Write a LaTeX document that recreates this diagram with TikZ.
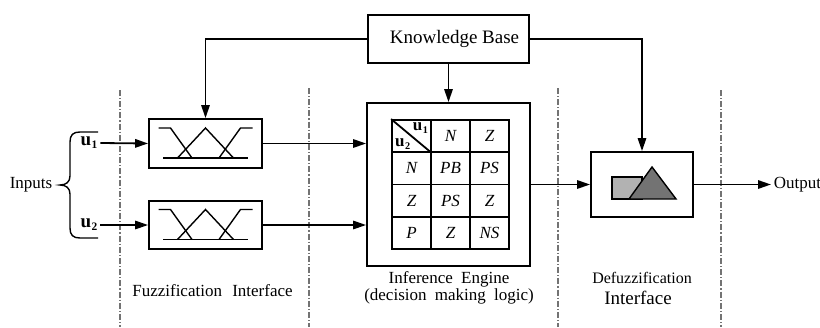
\documentclass[tikz,border=0pt]{standalone}
\usepackage{fontspec}
\setmainfont{Liberation Serif}
\usetikzlibrary{arrows.meta}

% bold input symbol with a small subscript in the text font
\newcommand{\uvar}[1]{\textbf{u}\kern0.3pt\raisebox{-0.35ex}{\scalebox{0.6}{\textbf{#1}}}}

\begin{document}
\begin{tikzpicture}[x=0.5pt,y=-0.5pt,
  line width=0.9pt,
  >={Triangle[length=6.5pt,width=4.2pt]},
  blockbox/.style={draw, rectangle, inner sep=0pt},
  lbl/.style={font=\fontsize{8.5}{10}\selectfont, inner sep=1pt},
  sepline/.style={draw=black!55, line width=0.6pt, dash pattern=on 3pt off 1pt on 0.6pt off 1pt},
  cellstyle/.style={draw, minimum width=19.5pt, minimum height=16.125pt, inner sep=0pt,
    font=\fontsize{8.5}{10}\selectfont\itshape},
  mfs/.pic={
    \draw[line width=0.7pt] (-42.5,14.5) -- (42.5,14.5);
    \draw[line width=0.7pt] (-47,-15.5) -- (-35,-15.5) -- (-13.5,14.5);
    \draw[line width=0.7pt] (13.5,14.5) -- (35,-15.5) -- (47,-15.5);
    \draw[line width=0.7pt] (-28,14.5) -- (0,-15.5) -- (28,14.5);
  }
]
\useasboundingbox (0,0) rectangle (820,327);

% section separators
\draw[sepline] (120,90) -- (120,327);
\draw[sepline] (309,88) -- (309,327);
\draw[sepline] (558,88) -- (558,327);
\draw[sepline] (721,90) -- (721,327);

% blocks
\node[blockbox, minimum width=80.5pt, minimum height=24pt,
      font=\fontsize{9.5}{11}\selectfont] (kb) at (448.5,39) {\hspace{6pt}Knowledge Base};
\node[blockbox, minimum width=56.5pt, minimum height=24.5pt] (fz1) at (205.5,143.5) {};
\node[blockbox, minimum width=56.5pt, minimum height=24pt] (fz2) at (205.5,225) {};
\node[blockbox, minimum width=81.5pt, minimum height=81.5pt] (inf) at (448.5,184.5) {};
\node[blockbox, minimum width=51pt, minimum height=32.5pt] (dfz) at (642,184.5) {};

% membership functions
\pic at (fz1.center) {mfs};
\pic at (fz2.center) {mfs};

% rule table: 4 rows x 3 columns
\foreach \r/\a/\b/\c in {1//N/Z, 2/N/PB/PS, 3/Z/PS/Z, 4/P/Z/NS}{
  \node[cellstyle] (c-\r-1) at (411.5,{103.875+32.25*\r}) {\a};
  \node[cellstyle] (c-\r-2) at (450.5,{103.875+32.25*\r}) {\b};
  \node[cellstyle] (c-\r-3) at (489.5,{103.875+32.25*\r}) {\c};
}
\draw (c-1-1.north west) -- (c-1-1.south east);
\node[font=\fontsize{8.5}{9}\selectfont, anchor=north east, inner sep=1.5pt]
  (hu1) at (c-1-1.north east) {\uvar{1}};
\node[font=\fontsize{8.5}{9}\selectfont, anchor=south west, inner sep=1.5pt]
  (hu2) at (c-1-1.south west) {\uvar{2}};

% defuzzification symbol
\begin{scope}[shift={(dfz.center)}]
  \draw[fill=black!30, line width=0.7pt] (-30,-7.5) rectangle (0,14.5);
  \draw[fill=black!55, line width=0.7pt] (-13,14.5) -- (10,-17.5) -- (34,14.5) -- cycle;
\end{scope}

% inputs
\node[lbl] (inp) at (31,185) {Inputs};
\node[lbl, font=\fontsize{9.5}{10}\selectfont] (u1) at (89,143) {\uvar{1}};
\node[lbl, font=\fontsize{9.5}{10}\selectfont] (u2) at (89,225) {\uvar{2}};
\draw[line width=0.7pt] (98,132) -- (80,132) .. controls (73,132) and (70,135) .. (70,142)
  -- (70,176) .. controls (70,182) and (66,185) .. (60,185)
  .. controls (66,185) and (70,188) .. (70,194)
  -- (70,228) .. controls (70,235) and (73,238) .. (80,238) -- (98,238);

% output
\node[lbl, anchor=west] (out) at (771,184.5) {Output};

% connectors
\draw[->] (u1.east) -- (fz1.west);
\draw[->] (u2.east) -- (fz2.west);
\draw[->] (kb.west) -| (fz1.north);
\draw[->] (kb.east) -| (dfz.north);
\draw[->] (kb.south) -- (inf.north);
\draw[->] (fz1.east) -- (fz1.east -| inf.west);
\draw[->] (fz2.east) -- (fz2.east -| inf.west);
\draw[->] (inf.east) -- (dfz.west);
\draw[->] (dfz.east) -- (out.west);

% section labels
\node[lbl] (lfz) at (212.5,291) {Fuzzification\hspace{3pt} Interface};
\node[lbl, align=center, font=\fontsize{8.5}{8.5}\selectfont] (linf) at (449,288)
  {Inference\hspace{2pt} Engine\\(decision\hspace{2pt} making\hspace{2pt} logic)};
\node[lbl, font=\fontsize{8}{9}\selectfont] (ldf1) at (642,278) {Defuzzification};
\node[lbl, font=\fontsize{9.5}{10}\selectfont] (ldf2) at (638,298) {Interface};
\end{tikzpicture}
\end{document}
